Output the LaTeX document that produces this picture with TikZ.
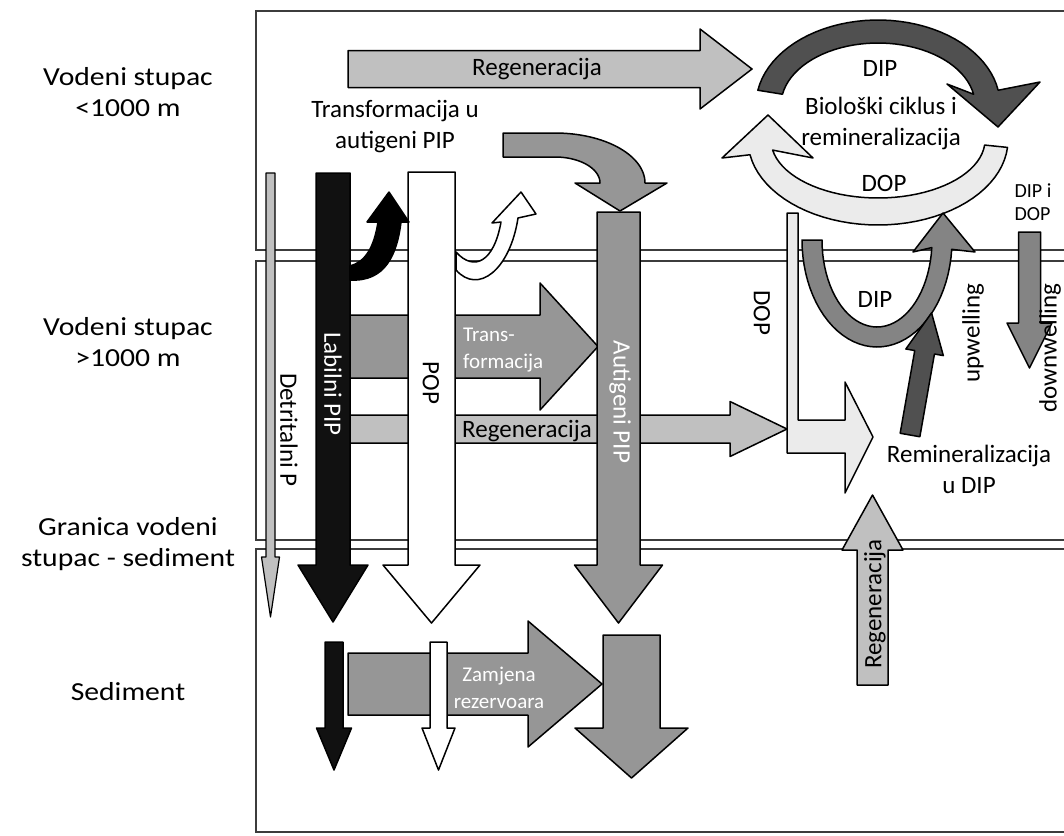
\documentclass[tikz,border=0pt]{standalone}
\usepackage{fontspec}
\setmainfont{Carlito}
\usepackage{graphicx}
\usepackage{xcolor}
\usetikzlibrary{calc}

\definecolor{blk}{HTML}{111111}
\definecolor{dkgray}{HTML}{505050}
\definecolor{mdgray}{HTML}{969696}
\definecolor{ugray}{HTML}{848484}
\definecolor{ltgray}{HTML}{C0C0C0}
\definecolor{pale}{HTML}{EBEBEB}
\definecolor{framegray}{HTML}{3C3C3C}

% straight block arrow: [style]{tail x,y}{angle}{length}{shaft}{head width}{head length}
\newcommand{\blockarrow}[7][]{%
  \draw[arrowbox,#1,shift={(#2)},rotate=#3]
    (0,{-#5/2}) -- ({#4-#7},{-#5/2}) -- ({#4-#7},{-#6/2}) -- (#4,0)
    -- ({#4-#7},{#6/2}) -- ({#4-#7},{#5/2}) -- (0,{#5/2}) -- cycle;}
\newcommand{\wide}[1]{\scalebox{1.14}[1]{#1}}

\begin{document}
\begin{tikzpicture}[x=1pt, y=-1pt,
  arrowbox/.style={draw=black, line width=1.5pt, line join=round},
  panel/.style={draw=framegray, line width=2.5pt},
  lbl/.style={font=\fontsize{25}{31}\selectfont, inner sep=0pt, align=center},
  side/.style={font=\fontsize{26}{31.5}\selectfont, inner sep=0pt, align=center},
  small/.style={font=\fontsize{21}{27}\selectfont, inner sep=0pt, align=left, text=white},
  tiny/.style={font=\fontsize{20}{23}\selectfont, inner sep=0pt, align=left}]
\useasboundingbox (0,0) rectangle (1064,835);
\fill[white] (0,0) rectangle (1064,835);
\clip (0,0) rectangle (1064,835);

% panels
\draw[panel] (256,11) rectangle (1090,250);
\draw[panel] (256,261) rectangle (1090,540);
\draw[panel] (256,549) rectangle (1090,832);

% upper water column
\blockarrow[fill=ltgray]{348,69}{0}{404}{37}{80}{52}
\draw[arrowbox, fill=pale]
  plot[domain=5:170, samples=40] ({878+130*cos(\x)},{140+85*sin(\x)})
  -- (722,158) -- (768,115) -- (813,158)
  -- plot[domain=170:5, samples=40] ({878+107*cos(\x)},{140+58*sin(\x)}) -- cycle;
\draw[arrowbox, fill=dkgray]
  plot[domain=190:350, samples=40] ({878+122*cos(\x)},{105+85*sin(\x)})
  -- (1040,82) -- (998,127) -- (947,84)
  -- plot[domain=350:190, samples=40] ({878+97*cos(\x)},{105+62*sin(\x)}) -- cycle;
\draw[arrowbox, fill=mdgray] (503,133) -- (555,133)
  -- plot[domain=270:360, samples=30] ({555+90*cos(\x)},{183+50*sin(\x)})
  -- (667,183) -- (620,211) -- (575,183)
  -- plot[domain=360:270, samples=30] ({555+45*cos(\x)},{183+26*sin(\x)})
  -- (503,157) -- cycle;

% deep water column
\blockarrow[fill=mdgray]{350,346.5}{0}{248}{63}{127}{58}
\blockarrow[fill=ltgray]{350,429}{0}{437}{28}{55}{57}
\draw[arrowbox, fill=pale] (787,213) -- (798,213) -- (798,420) -- (845,420)
  -- (845,382) -- (873,437) -- (845,493) -- (845,453) -- (787,453) -- cycle;

% columns
\blockarrow[fill=ltgray, line width=1.2pt]{270.5,173}{-90}{444}{9}{18}{60}
\blockarrow[fill=blk]{333,173}{-90}{449}{34}{70}{57}
\blockarrow[fill=white]{431.5,172}{-90}{451}{47}{97}{58}
\blockarrow[fill=mdgray]{618.5,212}{-90}{411}{43}{88}{58}

% hooks
\draw[arrowbox, fill=black] (350,280) .. controls (385,282) and (397,255) .. (401,222)
  -- (409,222) -- (389,192) -- (367,222) -- (378,222)
  .. controls (374,248) and (365,262) .. (350,266) -- cycle;
\draw[arrowbox, fill=white] (456,270) .. controls (478,295) and (510,270) .. (518,218)
  -- (536,214) -- (521,192) -- (492,223) -- (501,222)
  .. controls (494,262) and (474,272) .. (456,252) -- cycle;

% upwelling / downwelling
\draw[arrowbox, fill=ugray]
  plot[domain=180:5, samples=40] ({877+75*cos(\x)},{240+107*sin(\x)})
  -- (975,252) -- (943,213) -- (913,252)
  -- plot[domain=5:180, samples=40] ({877+55*cos(\x)},{240+87*sin(\x)}) -- cycle;
\blockarrow[fill=dkgray]{910,435}{80}{124}{20}{38}{40}
\blockarrow[fill=ugray]{1029.5,232}{-90}{136}{22}{45}{45}

% sediment
\blockarrow[fill=mdgray]{348,684}{0}{254}{62}{126}{74}
\blockarrow[fill=blk]{334,642}{-90}{128}{18}{35}{42}
\blockarrow[fill=white]{438.5,642}{-90}{128}{17}{33}{42}
\blockarrow[fill=mdgray]{631.5,635}{-90}{143}{57}{113}{50}
\blockarrow[fill=ltgray]{872.5,685}{90}{190}{31}{61}{55}

% labels left
\node[side] (zone1) at (128,92) {\wide{Vodeni stupac}\\\wide{<1000 m}};
\node[side] (zone2) at (128,342) {\wide{Vodeni stupac}\\\wide{>1000 m}};
\node[side] (zone3) at (128,544) {\wide{Granica vodeni}\\\wide{stupac - sediment}};
\node[side] (zone4) at (128,692) {\wide{Sediment}};

% labels in the picture
\node[lbl] (regtop) at (537,69) {Regeneracija};
\node[lbl] (dipup) at (880,68) {DIP};
\node[lbl] (biocyc) at (881,123) {Biološki ciklus i\\remineralizacija};
\node[lbl] (dopup) at (884,183) {DOP};
\node[tiny] (dipdop) at (1033,202) {DIP i\\DOP};
\node[lbl] (transf) at (395,127) {Transformacija u\\autigeni PIP};
\node[small, anchor=west] (transm) at (463,350) {Trans-\\formacija};
\node[lbl] (regmid) at (527,431) {Regeneracija};
\node[lbl, rotate=-90, text=white] (labil) at (333,384) {Labilni PIP};
\node[lbl, rotate=-90] (pop) at (431,383) {POP};
\node[lbl, rotate=-90, text=white] (autig) at (620,402) {Autigeni PIP};
\node[lbl, rotate=-90] (detr) at (289,430) {Detritalni P};
\node[lbl, rotate=-90] (dopside) at (762,313) {DOP};
\node[lbl] (dipmid) at (875,299) {DIP};
\node[lbl, rotate=90] (upw) at (973,333) {upwelling};
\node[lbl, rotate=90] (downw) at (1050,348) {downwelling};
\node[lbl] (remin) at (969,469) {Remineralizacija\\u DIP};
\node[lbl, rotate=90] (regup) at (875,604) {Regeneracija};
\node[small, align=center] (zamj) at (499,688) {Zamjena\\rezervoara};
\end{tikzpicture}
\end{document}
